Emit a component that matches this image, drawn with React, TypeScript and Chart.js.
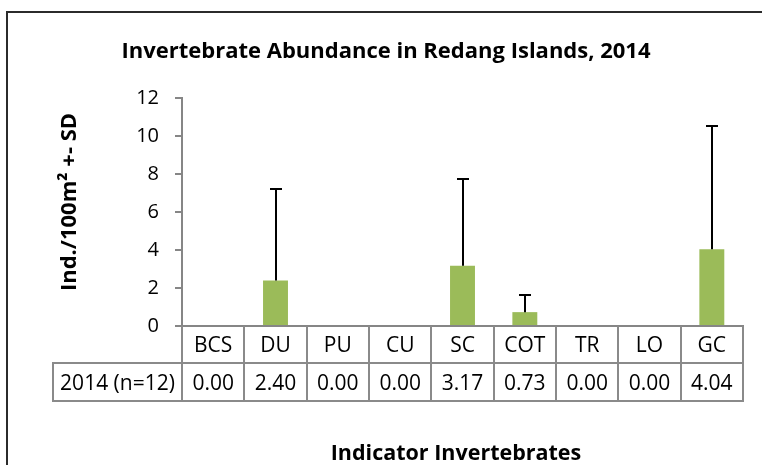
import React, { useEffect, useRef } from "react";
import { Chart, registerables } from "chart.js";

Chart.register(...registerables);

// ---- data ----
const categories = ["BCS", "DU", "PU", "CU", "SC", "COT", "TR", "LO", "GC"];
const means2014 = [0.0, 2.4, 0.0, 0.0, 3.17, 0.73, 0.0, 0.0, 4.04];
const sd2014 = [0.0, 4.8, 0.0, 0.0, 4.57, 0.9, 0.0, 0.0, 6.5];
const yTicks = [0, 2, 4, 6, 8, 10, 12];
const seriesLabel = "2014 (n=12)";
const chartTitle = "Invertebrate Abundance in Redang Islands, 2014";
const yTitle = "Ind./100m\u00B2 +- SD";
const xTitle = "Indicator Invertebrates";

// ---- style / layout ----
const FONT = "'Open Sans', 'DejaVu Sans', sans-serif";
const BAR_COLOR = "#9BBB59";
const AXIS_COLOR = "#868686";
const TABLE_COLOR = "#8a8a8a";

const extrasPlugin = {
  id: "excelExtras",
  afterDatasetsDraw(chart: any) {
    const ctx = chart.ctx as CanvasRenderingContext2D;
    const xs = chart.scales.x;
    const ys = chart.scales.y;
    const meta = chart.getDatasetMeta(0);
    ctx.save();

    // error bars (plus only)
    ctx.strokeStyle = "#000";
    ctx.lineWidth = 2;
    meta.data.forEach((bar: any, i: number) => {
      const sd = sd2014[i];
      if (!sd) return;
      const cx = Math.round(bar.x);
      const y0 = ys.getPixelForValue(means2014[i]);
      const y1 = Math.round(ys.getPixelForValue(means2014[i] + sd));
      ctx.beginPath();
      ctx.moveTo(cx, y0);
      ctx.lineTo(cx, y1);
      ctx.moveTo(cx - 6, y1);
      ctx.lineTo(cx + 6, y1);
      ctx.stroke();
    });

    // data table
    const n = categories.length;
    const left = xs.left;
    const right = xs.right;
    const w = (right - left) / n;
    const top = ys.bottom;
    const rowMid = top + 37;
    const rowBot = rowMid + 38;
    const labelLeft = 53;

    ctx.strokeStyle = TABLE_COLOR;
    ctx.lineWidth = 2;
    ctx.beginPath();
    for (let k = 0; k <= n; k++) {
      const bx = Math.round(left + k * w);
      ctx.moveTo(bx, top);
      ctx.lineTo(bx, rowBot);
    }
    ctx.moveTo(labelLeft, rowMid);
    ctx.lineTo(labelLeft, rowBot);
    ctx.moveTo(labelLeft - 1, rowMid);
    ctx.lineTo(right + 1, rowMid);
    ctx.moveTo(labelLeft - 1, rowBot);
    ctx.lineTo(right + 1, rowBot);
    ctx.stroke();

    ctx.fillStyle = "#000";
    ctx.font = `21px ${FONT}`;
    ctx.textAlign = "center";
    ctx.textBaseline = "alphabetic";
    categories.forEach((c, i) => {
      const cx = xs.getPixelForValue(i);
      ctx.fillText(c, cx, top + 26);
      ctx.fillText(means2014[i].toFixed(2), cx, rowMid + 27);
    });
    ctx.fillText(seriesLabel, (labelLeft + left) / 2, rowMid + 27);

    // titles
    ctx.font = `bold 22px ${FONT}`;
    ctx.fillText(chartTitle, 386, 58);
    ctx.font = `bold 21.5px ${FONT}`;
    ctx.fillText(xTitle, 456, 460);
    ctx.save();
    ctx.translate(70, 202);
    ctx.rotate(-Math.PI / 2);
    ctx.font = `bold 22px ${FONT}`;
    ctx.textBaseline = "middle";
    ctx.fillText(yTitle, 0, 0);
    ctx.restore();

    // outer frame
    ctx.strokeStyle = "#2b2b2b";
    ctx.lineWidth = 2;
    ctx.strokeRect(7, 12, 900, 600);

    ctx.restore();
  },
};

export default function App() {
  const ref = useRef<HTMLCanvasElement | null>(null);

  useEffect(() => {
    if (!ref.current) return;
    const chart = new Chart(ref.current, {
      type: "bar",
      data: {
        labels: categories,
        datasets: [
          {
            label: seriesLabel,
            data: means2014,
            backgroundColor: BAR_COLOR,
            borderWidth: 0,
            categoryPercentage: 1,
            barPercentage: 0.4,
          },
        ],
      },
      options: {
        animation: false,
        responsive: false,
        devicePixelRatio: 1,
        layout: { padding: { top: 98, right: 19, bottom: 0, left: 0 } },
        plugins: {
          legend: { display: false },
          tooltip: { enabled: false },
          title: { display: false },
        },
        scales: {
          x: {
            type: "category",
            grid: { display: false },
            border: { display: true, color: AXIS_COLOR, width: 2 },
            ticks: { display: false },
            afterFit: (s: any) => {
              s.height = 139;
            },
          },
          y: {
            min: 0,
            max: 12,
            afterBuildTicks: (s: any) => {
              s.ticks = yTicks.map((v) => ({ value: v }));
            },
            grid: {
              display: true,
              drawOnChartArea: false,
              drawTicks: true,
              tickLength: 7,
              color: AXIS_COLOR,
              lineWidth: 2,
            },
            border: { display: true, color: AXIS_COLOR, width: 2 },
            ticks: { padding: 16, color: "#000", font: { family: FONT, size: 20 } },
            afterFit: (s: any) => {
              s.width = 182;
            },
          },
        },
      },
      plugins: [extrasPlugin],
    });
    return () => chart.destroy();
  }, []);

  return (
    <div style={{ position: "absolute", left: 0, top: 0, width: 762, height: 465, background: "#fff" }}>
      <canvas ref={ref} width={762} height={465} style={{ display: "block" }} />
    </div>
  );
}
